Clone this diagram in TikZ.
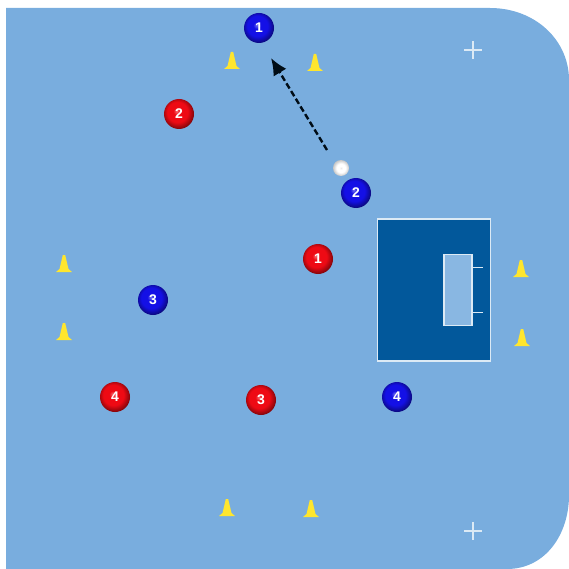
\documentclass[tikz,border=0pt]{standalone}
\usepackage{fontspec}
\setmainfont{Liberation Sans}
\usetikzlibrary{arrows.meta,positioning,shadings,calc}
\definecolor{pitchBlue}{HTML}{79ADDE}
\definecolor{boxBlue}{HTML}{02589B}
\definecolor{lineWhite}{HTML}{DCEAF5}
\definecolor{coneYellow}{HTML}{FFE62E}
\definecolor{teamRed}{HTML}{EE0A14}
\definecolor{teamBlue}{HTML}{1410E6}
\pgfdeclareradialshading{redball}{\pgfpoint{-4bp}{5bp}}{color(0bp)=(teamRed!60!white); color(6bp)=(teamRed); color(17bp)=(teamRed); color(29bp)=(teamRed!45!black); color(50bp)=(teamRed!40!black)}
\pgfdeclareradialshading{blueball}{\pgfpoint{-4bp}{5bp}}{color(0bp)=(teamBlue!60!white); color(6bp)=(teamBlue); color(17bp)=(teamBlue); color(29bp)=(teamBlue!45!black); color(50bp)=(teamBlue!40!black)}
\pgfdeclareradialshading{whiteball}{\pgfpoint{0bp}{0bp}}{color(0bp)=(black!8); color(5bp)=(white); color(14bp)=(white); color(25bp)=(black!22); color(50bp)=(black!30)}

\begin{document}
\begin{tikzpicture}[x=1pt,y=-1pt,>=Latex]
  \tikzstyle{player}=[circle,minimum size=30pt,inner sep=0pt,text=white,font=\fontsize{14}{14}\selectfont\bfseries]
  \tikzstyle{redplayer}=[player,shading=redball]
  \tikzstyle{blueplayer}=[player,shading=blueball]
  \tikzstyle{puck}=[circle,minimum size=16pt,inner sep=0pt,shading=whiteball]
  \tikzstyle{goalline}=[draw=lineWhite,line width=1.7pt]
  \tikzstyle{cross}=[draw=lineWhite,line width=1.1pt]
  \useasboundingbox (0,0) rectangle (569,569);
  % pitch
  \fill[pitchBlue] (6,8) -- (490,8) .. controls (535,8) and (569,40) .. (569,80) -- (569,495) .. controls (569,535) and (545,569) .. (507,569) -- (6,569) -- cycle;
  % goal area
  \node[draw=lineWhite,fill=boxBlue,line width=1.7pt,minimum width=113pt,minimum height=142pt,inner sep=0pt] (area) at (434,290) {};
  \node[draw=lineWhite,fill=pitchBlue!88!white,line width=1.7pt,minimum width=28pt,minimum height=71pt,inner sep=0pt] (goal) at (458,290) {};
  \foreach \name/\dy in {postA/-22.5,postB/22.5}{
    \coordinate (\name) at ($(goal.east)+(0,\dy)$);
    \draw[goalline] (\name) -- ++(10,0);}
  % corner marks
  \foreach \x/\y in {473/50,473/531}{\draw[cross] (\x-9,\y) -- (\x+9,\y) (\x,\y-9) -- (\x,\y+9);}
  % cones
  \foreach \x/\y in {232/61,315/63,64/264,64/332,521/269,522/338,227/508,311/509}{
    \fill[coneYellow] (\x-1.2,\y-9) -- (\x+1.2,\y-9) -- (\x+4.5,\y+5) -- (\x+8,\y+8) -- (\x-8,\y+8) -- (\x-4.5,\y+5) -- cycle;}
  % players
  \node[blueplayer] (blueA) at (259,28) {1};
  \node[blueplayer] (blueB) at (356,193) {2};
  \node[blueplayer] (blueC) at (153,300) {3};
  \node[blueplayer] (blueD) at (397,397) {4};
  \node[redplayer] (redA) at (318,259) {1};
  \node[redplayer] (redB) at (179,114) {2};
  \node[redplayer] (redC) at (261,400) {3};
  \node[redplayer] (redD) at (115,397) {4};
  \node[puck] (ball) at (341,168) {};
  % pass
  \coordinate (passfrom) at (327,150);
  \coordinate (passto) at (271,58);
  \draw[dash pattern=on 6pt off 3pt,line width=2.4pt,draw=black!85!boxBlue,-{Latex[length=17pt,width=15pt]}] (passfrom) -- (passto);
\end{tikzpicture}
\end{document}
